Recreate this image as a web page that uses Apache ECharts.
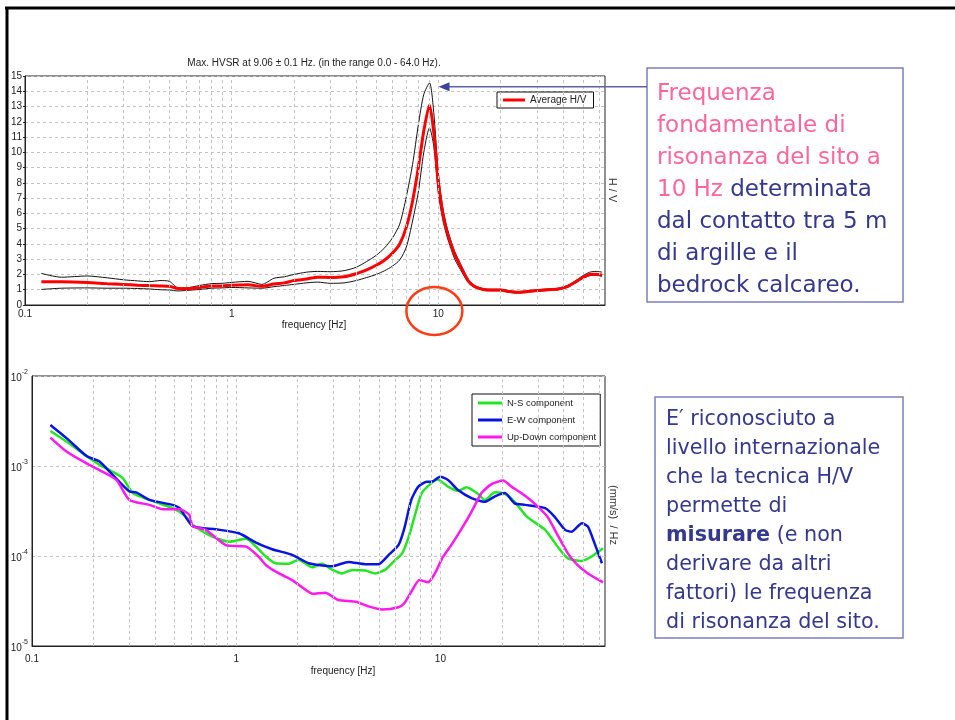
<!DOCTYPE html>
<html>
<head>
<meta charset="utf-8">
<script src="https://cdn.jsdelivr.net/npm/echarts@6/dist/echarts.min.js"></script>
<style>
  html, body { margin: 0; padding: 0; background: #ffffff; }
  #chart { width: 955px; height: 720px; }
</style>
</head>
<body>
<div id="chart"></div>
<script>
// ---- H/V spectral ratio (upper panel) ----
const hvFreq = [0.12, 0.15, 0.2, 0.25, 0.3, 0.35, 0.4, 0.45, 0.5, 0.55, 0.6, 0.7, 0.8, 0.9, 1.0, 1.2, 1.4, 1.6, 1.8, 2.0,
  2.3, 2.6, 3.0, 3.5, 4.0, 4.5, 5.0, 5.5, 6.0, 6.5, 7.0, 7.5, 8.0, 8.5, 9.06, 9.5, 10.0, 10.5, 11, 11.5,
  12, 13, 14, 15, 16.5, 18, 20, 22, 24, 27, 30, 34, 38, 42, 46, 50, 54, 58, 62];
const hvAverage = [1.52, 1.52, 1.48, 1.40, 1.35, 1.30, 1.27, 1.25, 1.22, 1.08, 1.06, 1.15, 1.25, 1.25, 1.30, 1.32, 1.22, 1.38, 1.45, 1.60,
  1.70, 1.82, 1.80, 1.85, 2.05, 2.30, 2.60, 2.95, 3.40, 4.00, 5.10, 6.80, 9.00, 11.40, 13.10, 11.30, 8.00, 6.00, 4.80, 4.00,
  3.30, 2.35, 1.55, 1.20, 1.02, 0.98, 0.98, 0.88, 0.83, 0.88, 0.95, 1.00, 1.05, 1.20, 1.50, 1.80, 2.00, 2.02, 1.95];
const hvUpper = [2.07, 1.82, 1.90, 1.78, 1.65, 1.58, 1.53, 1.60, 1.55, 1.12, 1.12, 1.28, 1.40, 1.42, 1.48, 1.55, 1.35, 1.75, 1.85, 2.00,
  2.15, 2.20, 2.18, 2.25, 2.47, 2.85, 3.25, 3.75, 4.40, 5.30, 7.10, 9.20, 11.80, 13.80, 14.55, 12.60, 8.60, 6.40, 5.10, 4.20,
  3.50, 2.50, 1.65, 1.27, 1.07, 1.03, 1.03, 0.93, 0.88, 0.93, 1.00, 1.05, 1.10, 1.27, 1.58, 1.92, 2.15, 2.20, 2.15];
const hvLower = [1.02, 1.10, 1.12, 1.10, 1.10, 1.08, 1.05, 1.00, 0.98, 0.92, 0.95, 1.02, 1.10, 1.12, 1.15, 1.12, 1.10, 1.20, 1.28, 1.35,
  1.45, 1.50, 1.42, 1.45, 1.60, 1.80, 2.00, 2.25, 2.55, 2.95, 3.80, 5.50, 7.40, 10.00, 11.60, 10.40, 7.30, 5.60, 4.50, 3.70,
  3.00, 2.15, 1.45, 1.15, 0.97, 0.93, 0.93, 0.83, 0.78, 0.83, 0.90, 0.95, 1.00, 1.15, 1.45, 1.75, 1.92, 1.95, 1.88];

// ---- single-component spectra (lower panel), (mm/s)/Hz ----
const nsFreq = [0.123, 0.148, 0.185, 0.214, 0.249, 0.279, 0.312, 0.376, 0.489, 0.568, 0.612, 0.765, 0.924, 1.12, 1.25, 1.4, 1.56, 1.81, 2.02, 2.36,
  2.63, 2.96, 3.3, 3.7, 4.29, 4.8, 5.4, 6.0, 6.5, 7.0, 7.55, 8.1, 9.06, 9.7, 10.9, 12.2, 13.4, 15.3, 16.5, 18.5,
  20.7, 23.1, 26.5, 32.6, 37.5, 42.1, 49.3, 54.7, 62.6];
const nsValues = [2.45e-3, 1.86e-3, 1.29e-3, 1.03e-3, 8.6e-4, 7.3e-4, 5.0e-4, 4.2e-4, 3.4e-4, 2.74e-4, 2.21e-4, 1.64e-4, 1.44e-4, 1.55e-4, 1.27e-4, 9.8e-5, 8.3e-5, 8.2e-5, 9.1e-5, 7.5e-5,
  8.2e-5, 7.0e-5, 6.4e-5, 7.0e-5, 6.9e-5, 6.4e-5, 7.1e-5, 9.0e-5, 1.07e-4, 1.64e-4, 2.98e-4, 5.0e-4, 6.5e-4, 7.1e-4, 5.9e-4, 5.3e-4, 5.8e-4, 4.9e-4, 4.2e-4, 5.1e-4,
  4.9e-4, 4.0e-4, 2.74e-4, 1.95e-4, 1.27e-4, 9.4e-5, 8.8e-5, 9.8e-5, 1.22e-4];

const ewFreq = [0.123, 0.148, 0.185, 0.214, 0.249, 0.3, 0.324, 0.376, 0.489, 0.528, 0.612, 0.795, 1.03, 1.25, 1.5, 1.88, 2.27, 2.96, 3.54, 4.29,
  4.98, 5.59, 6.23, 6.66, 7.2, 7.8, 8.58, 9.06, 9.97, 10.9, 12.2, 14.2, 16.5, 18.5, 20.7, 23.1, 26.0, 32.6, 36.2, 40.8,
  43.9, 49.3, 52.8, 56.9, 61.8];
const ewValues = [2.86e-3, 2.03e-3, 1.29e-3, 1.12e-3, 7.9e-4, 5.2e-4, 5.1e-4, 4.2e-4, 3.7e-4, 3.4e-4, 2.15e-4, 1.98e-4, 1.79e-4, 1.41e-4, 1.19e-4, 1.03e-4, 8.3e-5, 7.7e-5, 8.6e-5, 8.1e-5,
  8.1e-5, 1.03e-4, 1.32e-4, 2.03e-4, 4.2e-4, 5.9e-4, 6.7e-4, 6.7e-4, 7.6e-4, 7.0e-4, 5.4e-4, 4.4e-4, 4.0e-4, 4.6e-4, 5.0e-4, 3.85e-4, 3.7e-4, 3.4e-4, 2.74e-4, 1.95e-4,
  1.86e-4, 2.31e-4, 2.12e-4, 1.38e-4, 8.3e-5];

const udFreq = [0.123, 0.148, 0.185, 0.214, 0.259, 0.3, 0.376, 0.437, 0.528, 0.59, 0.612, 0.71, 0.89, 1.12, 1.29, 1.4, 1.62, 1.88, 2.19, 2.36,
  2.73, 3.17, 3.85, 4.49, 5.2, 6.23, 6.66, 7.2, 7.9, 8.7, 9.4, 10.2, 11.3, 12.6, 14.2, 15.9, 17.8, 20.3, 22.3, 24.9,
  29.0, 33.4, 37.5, 42.1, 47.0, 52.8, 62.6];
const udValues = [2.07e-3, 1.44e-3, 1.07e-3, 9.0e-4, 7.0e-4, 4.2e-4, 3.7e-4, 3.3e-4, 3.3e-4, 2.86e-4, 2.15e-4, 1.95e-4, 1.32e-4, 1.27e-4, 9.8e-5, 7.9e-5, 6.4e-5, 5.4e-5, 4.2e-5, 3.8e-5,
  3.9e-5, 3.24e-5, 3.1e-5, 2.74e-5, 2.55e-5, 2.7e-5, 2.98e-5, 4.0e-5, 5.4e-5, 5.1e-5, 6.4e-5, 9.4e-5, 1.32e-4, 1.95e-4, 3.1e-4, 5.0e-4, 6.3e-4, 6.9e-4, 5.9e-4, 5.0e-4,
  3.8e-4, 2.74e-4, 1.71e-4, 1.07e-4, 7.9e-5, 6.4e-5, 5.1e-5];

// log-decade sub-divisions used for the dashed vertical grid
const freqGridLines = [0.2, 0.3, 0.4, 0.5, 0.6, 0.7, 0.8, 0.9, 1, 2, 3, 4, 5, 6, 7, 8, 9, 10, 20, 30, 40, 50, 60];

const seriesNames = ['Average H/V', 'N-S component', 'E-W component', 'Up-Down component'];
const titleText = 'Max. HVSR at 9.06 \u00b1 0.1 Hz. (in the range 0.0 - 64.0 Hz).';

const pairs = (xs, ys) => xs.map((x, i) => [x, ys[i]]);
const small = "'Liberation Sans', Arial, sans-serif";
const slideFont = "'DejaVu Sans', Verdana, sans-serif";
const gridDash = { type: [3, 3], color: '#c4c4c4', width: 1 };

function gridMarks() {
  return {
    silent: true, symbol: ['none', 'none'], animation: false,
    label: { show: false },
    lineStyle: gridDash,
    data: freqGridLines.map(v => ({ xAxis: v }))
  };
}

function freqAxis(gridIndex, margin) {
  return {
    type: 'log', logBase: 10, gridIndex, min: 0.1, max: 64,
    splitLine: { show: false }, axisTick: { show: false },
    axisLine: { lineStyle: { color: '#222' } },
    axisLabel: { fontFamily: small, fontSize: 10, color: '#222', margin, showMaxLabel: false, formatter: v => String(v) }
  };
}

const option = {
  animation: false,
  backgroundColor: '#ffffff',
  grid: [
    { left: 25, top: 76, width: 580, height: 229, show: true, borderColor: '#222', borderWidth: 1, backgroundColor: 'transparent' },
    { left: 32, top: 376, width: 573, height: 270, show: true, borderColor: '#222', borderWidth: 1, backgroundColor: 'transparent' }
  ],
  xAxis: [freqAxis(0, 4), freqAxis(1, 8)],
  yAxis: [
    {
      type: 'value', gridIndex: 0, min: 0, max: 15, interval: 1,
      axisLine: { show: true, lineStyle: { color: '#222' } },
      axisTick: { show: true, length: 2, lineStyle: { color: '#222' } },
      splitLine: { show: true, lineStyle: gridDash },
      axisLabel: { fontFamily: small, fontSize: 10, color: '#222', margin: 3 }
    },
    {
      type: 'log', logBase: 10, gridIndex: 1, min: 1e-5, max: 1e-2,
      axisLine: { show: true, lineStyle: { color: '#222' } },
      axisTick: { show: false },
      splitLine: { show: true, lineStyle: gridDash },
      axisLabel: {
        margin: 4, color: '#222',
        formatter: v => '{b|10}{e|' + Math.round(Math.log10(v)) + '}',
        rich: {
          b: { fontFamily: small, fontSize: 10, color: '#222', lineHeight: 14, verticalAlign: 'bottom' },
          e: { fontFamily: small, fontSize: 7, color: '#222', lineHeight: 14, verticalAlign: 'top' }
        }
      }
    }
  ],
  legend: [
    {
      data: [seriesNames[0]], left: 497, top: 92, orient: 'horizontal',
      backgroundColor: '#fff', borderColor: '#111', borderWidth: 1, borderRadius: 0,
      padding: [3, 7, 3, 6], itemWidth: 22, itemHeight: 3, icon: 'rect',
      textStyle: { fontFamily: small, fontSize: 10, color: '#222' }
    },
    {
      data: seriesNames.slice(1), left: 472, top: 394, orient: 'vertical', itemGap: 5,
      backgroundColor: '#fff', borderColor: '#111', borderWidth: 1, borderRadius: 0,
      padding: [3, 4, 3, 6], itemWidth: 24, itemHeight: 3, icon: 'rect',
      textStyle: { fontFamily: small, fontSize: 9.5, color: '#222', lineHeight: 12 }
    }
  ],
  series: [
    { name: 'grid-top', type: 'line', xAxisIndex: 0, yAxisIndex: 0, data: [], silent: true, z: 1, markLine: gridMarks() },
    { name: 'grid-bottom', type: 'line', xAxisIndex: 1, yAxisIndex: 1, data: [], silent: true, z: 1, markLine: gridMarks() },
    { name: 'H/V lower', type: 'line', xAxisIndex: 0, yAxisIndex: 0, data: pairs(hvFreq, hvLower),
      showSymbol: false, smooth: 0.25, lineStyle: { color: '#111', width: 1 }, itemStyle: { color: '#111' }, z: 3 },
    { name: 'H/V upper', type: 'line', xAxisIndex: 0, yAxisIndex: 0, data: pairs(hvFreq, hvUpper),
      showSymbol: false, smooth: 0.25, lineStyle: { color: '#111', width: 1 }, itemStyle: { color: '#111' }, z: 3 },
    { name: seriesNames[0], type: 'line', xAxisIndex: 0, yAxisIndex: 0, data: pairs(hvFreq, hvAverage),
      showSymbol: false, smooth: 0.25, lineStyle: { color: '#ff0000', width: 3 }, itemStyle: { color: '#ff0000' }, z: 4 },
    { name: seriesNames[1], type: 'line', xAxisIndex: 1, yAxisIndex: 1, data: pairs(nsFreq, nsValues),
      showSymbol: false, smooth: 0.2, lineStyle: { color: '#22e622', width: 2.5 }, itemStyle: { color: '#22e622' }, z: 3 },
    { name: seriesNames[2], type: 'line', xAxisIndex: 1, yAxisIndex: 1, data: pairs(ewFreq, ewValues),
      showSymbol: false, smooth: 0.2, lineStyle: { color: '#0a14e0', width: 2.5 }, itemStyle: { color: '#0a14e0' }, z: 3 },
    { name: seriesNames[3], type: 'line', xAxisIndex: 1, yAxisIndex: 1, data: pairs(udFreq, udValues),
      showSymbol: false, smooth: 0.2, lineStyle: { color: '#ff18f0', width: 2.5 }, itemStyle: { color: '#ff18f0' }, z: 3 }
  ]
};

const chart = echarts.init(document.getElementById('chart'));
chart.setOption(option);

// annotation anchors taken from the axes
let peakIdx = 0;
hvUpper.forEach((v, i) => { if (v > hvUpper[peakIdx]) peakIdx = i; });
const peakPx = chart.convertToPixel({ gridIndex: 0 }, [hvFreq[peakIdx], hvUpper[peakIdx]]);
const tenHzPx = chart.convertToPixel({ gridIndex: 0 }, [10, 0]);
const tipX = peakPx[0] + 9, tipY = peakPx[1] + 4;

const pink = '#ff6699', navy = '#35388f';
const box1Text = [
  '{p|Frequenza}',
  '{p|fondamentale di}',
  '{p|risonanza del sito a}',
  '{p|10 Hz}{b| determinata}',
  '{b|dal contatto tra 5 m}',
  '{b|di argille e il}',
  '{b|bedrock calcareo.}'
].join('\n');
const box2Text = [
  '{b|E\u2032 riconosciuto a}',
  '{b|livello internazionale}',
  '{b|che la tecnica H/V}',
  '{b|permette di}',
  '{k|misurare}{b| (e non}',
  '{b|derivare da altri}',
  '{b|fattori) le frequenza}',
  '{b|di risonanza del sito.}'
].join('\n');

chart.setOption({
  graphic: [
    // slide frame
    { type: 'line', shape: { x1: 5, y1: 8, x2: 955, y2: 8 }, style: { stroke: '#000', lineWidth: 3 } },
    { type: 'line', shape: { x1: 7, y1: 7, x2: 7, y2: 720 }, style: { stroke: '#000', lineWidth: 3 } },
    // chart captions
    { type: 'text', x: 314, y: 63, style: { text: titleText, font: '10px ' + small, fill: '#222', textAlign: 'center', textVerticalAlign: 'middle' } },
    { type: 'text', x: 314, y: 325, style: { text: 'frequency [Hz]', font: '10px ' + small, fill: '#222', textAlign: 'center', textVerticalAlign: 'middle' } },
    { type: 'text', x: 343, y: 671, style: { text: 'frequency [Hz]', font: '10px ' + small, fill: '#222', textAlign: 'center', textVerticalAlign: 'middle' } },
    { type: 'text', x: 612, y: 190, rotation: -Math.PI / 2, style: { text: 'H / V', font: '11px ' + small, fill: '#333', textAlign: 'center', textVerticalAlign: 'middle' } },
    { type: 'text', x: 613, y: 515, rotation: -Math.PI / 2, style: { text: '(mm/s)  / Hz', font: '11px ' + small, fill: '#333', textAlign: 'center', textVerticalAlign: 'middle' } },
    // ring round the 10 Hz tick label
    { type: 'ellipse', shape: { cx: tenHzPx[0] - 4, cy: tenHzPx[1] + 6, rx: 28, ry: 24 }, style: { fill: 'none', stroke: '#ff3c14', lineWidth: 2.5 }, z: 20 },
    // pointer from the note to the H/V peak
    { type: 'line', shape: { x1: 647, y1: tipY, x2: tipX + 8, y2: tipY }, style: { stroke: '#5b62a6', lineWidth: 1.5 }, z: 20 },
    { type: 'polygon', shape: { points: [[tipX, tipY], [tipX + 11, tipY - 4.5], [tipX + 11, tipY + 4.5]] }, style: { fill: '#3b43a0' }, z: 20 },
    // notes
    { type: 'rect', shape: { x: 647, y: 68, width: 256, height: 234 }, style: { fill: '#fff', stroke: '#7c80bd', lineWidth: 1.5 }, z: 10 },
    { type: 'text', x: 657, y: 78, z: 11, style: {
        text: box1Text,
        rich: {
          p: { fill: pink, fontFamily: slideFont, fontSize: 23, lineHeight: 32 },
          b: { fill: navy, fontFamily: slideFont, fontSize: 23, lineHeight: 32 }
        }
      } },
    { type: 'rect', shape: { x: 655, y: 397, width: 248, height: 241 }, style: { fill: '#fff', stroke: '#7c80bd', lineWidth: 1.5 }, z: 10 },
    { type: 'text', x: 666, y: 405, z: 11, style: {
        text: box2Text,
        rich: {
          b: { fill: navy, fontFamily: slideFont, fontSize: 20.7, lineHeight: 29 },
          k: { fill: navy, fontFamily: slideFont, fontSize: 20.7, fontWeight: 'bold', lineHeight: 29 }
        }
      } }
  ]
});
</script>
</body>
</html>
